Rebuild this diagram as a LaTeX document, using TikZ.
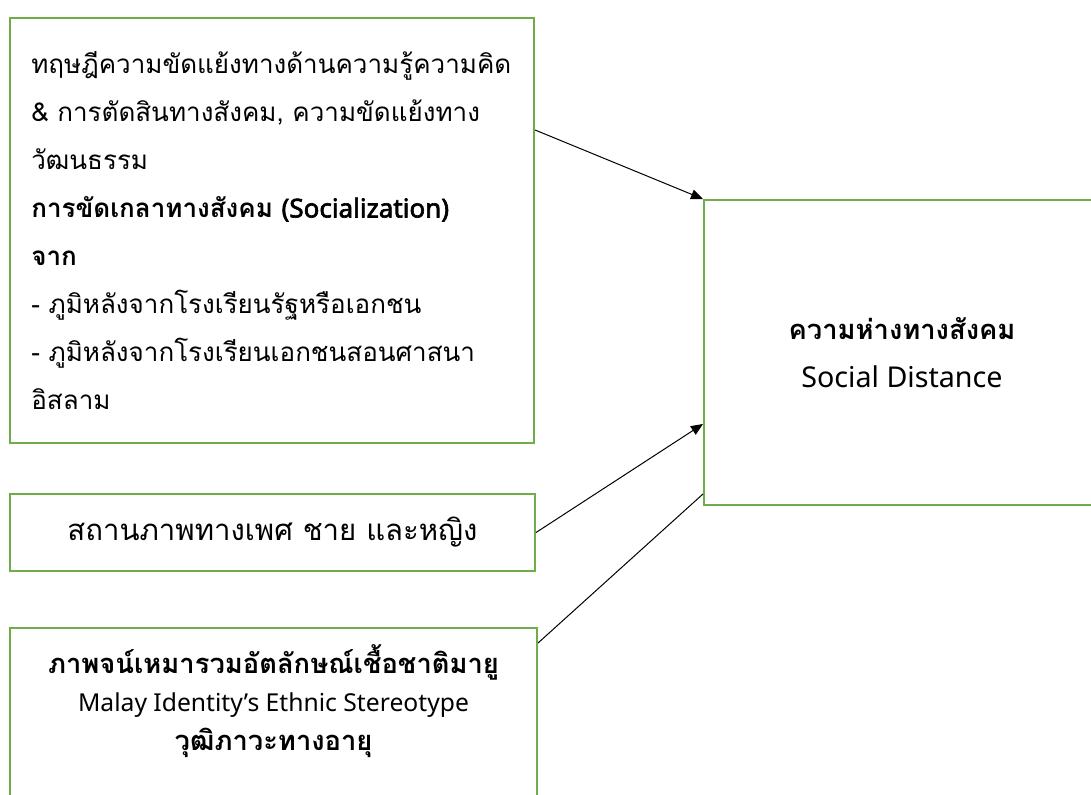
\documentclass[tikz,border=0pt]{standalone}
\usepackage{fontspec}
\setmainfont[Script=Thai]{Loma}
\newfontfamily\latfont{Noto Sans}
\newfontfamily\latboldfont[FakeBold=2.5]{Noto Sans}
\usetikzlibrary{arrows.meta}
\definecolor{boxgreen}{HTML}{70AD47}

\begin{document}
\begin{tikzpicture}[x=0.75pt, y=-0.75pt,
  boxnode/.style={draw=boxgreen, line width=1.5pt, inner sep=0pt},
  link/.style={line width=0.75pt},
  tip/.style={-{Triangle[length=9pt,width=7.5pt]}},
  font=\fontsize{19.5}{36}\selectfont]
\clip (0,0) rectangle (1091,794);

\node [boxnode, minimum width=393pt, minimum height=318.75pt, text width=361pt, align=left] (box1) at (272,230.5) {ทฤษฎีความขัดแย้งทางด้านความรู้ความคิด\\
\& การตัดสินทางสังคม, ความขัดแย้งทาง\\
วัฒนธรรม\\
\textbf{การขัดเกลาทางสังคม} {\latboldfont\fontsize{19.5}{36}\selectfont (Socialization)}\\
\textbf{จาก}\\
- ภูมิหลังจากโรงเรียนรัฐหรือเอกชน\\
- ภูมิหลังจากโรงเรียนเอกชนสอนศาสนา\\
อิสลาม};
\node [boxnode, minimum width=393.75pt, minimum height=57.75pt, font=\fontsize{22}{36}\selectfont] (box2) at (272.5,532.5) {สถานภาพทางเพศ ชาย และหญิง};
\node [boxnode, minimum width=297pt, minimum height=228.75pt, align=center, font=\fontsize{20.5}{36}\selectfont] (box3) at (902,352.5) {\textbf{ความห่างทางสังคม}\\ {\latfont\fontsize{21.5}{36}\selectfont Social Distance}};
\node [boxnode, anchor=north, minimum width=395.25pt, minimum height=150pt] (box4) at (273.5,627) {};
\node [align=center, font=\fontsize{20.5}{29}\selectfont] (box4text) at (273.5,701) {\textbf{ภาพจน์เหมารวมอัตลักษณ์เชื้อชาติมายู}\\
{\latfont\fontsize{18.5}{29}\selectfont Malay Identity’s Ethnic Stereotype}\\
\textbf{วุฒิภาวะทางอายุ}};

\draw[link, tip] ([yshift=75.4pt]box1.east) -- (box3.north west);
\draw[link, tip] (box2.east) -- ([yshift=-53.6pt]box3.west);
\draw[link] ([yshift=-12pt]box4.north east) -- ([yshift=-106.1pt]box3.west);
\end{tikzpicture}
\end{document}
